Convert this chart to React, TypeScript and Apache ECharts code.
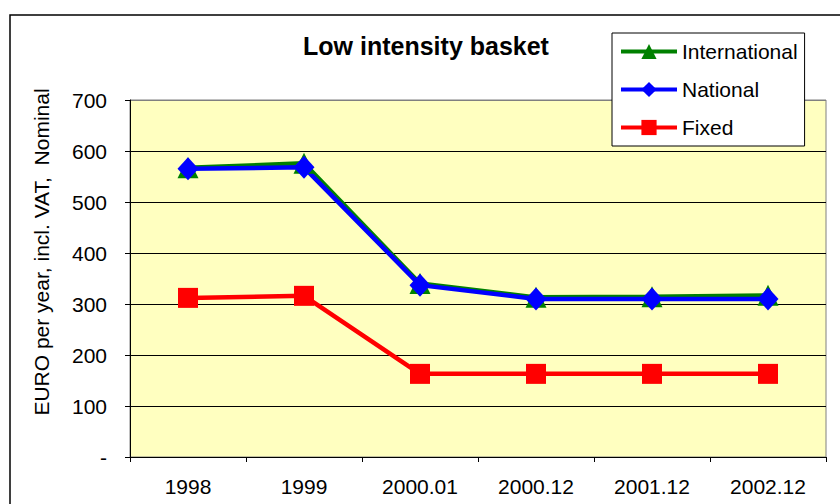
import React, { useEffect, useRef } from "react";
import * as echarts from "echarts";

const categories = ["1998", "1999", "2000.01", "2000.12", "2001.12", "2002.12"];
const international = [567, 576, 340, 313, 314, 317];
const national = [565, 568, 337, 310, 310, 310];
const fixed = [312, 316, 163, 163, 163, 163];
const yTicks = [0, 100, 200, 300, 400, 500, 600, 700];
const yAxisTitle = "EURO per year, incl. VAT,  Nominal";

export default function App() {
  const ref = useRef<HTMLDivElement>(null);
  useEffect(() => {
    document.body.style.margin = "0";
    const chart = echarts.init(ref.current!, null, { renderer: "svg" });
    const font = "Liberation Sans, Arial, sans-serif";
    chart.setOption({
      animation: false,
      backgroundColor: "#ffffff",
      textStyle: { fontFamily: font },
      title: {
        text: "Low intensity basket",
        left: 426,
        textAlign: "center",
        top: 33,
        padding: 0,
        textStyle: { fontSize: 25, fontWeight: "bold", color: "#000", fontFamily: font },
      },
      graphic: [
        {
          type: "rect",
          shape: { x: 10, y: 15, width: 850, height: 520 },
          style: { fill: "none", stroke: "#000", lineWidth: 1.5 },
          z: 100,
        },
        {
          type: "text",
          x: 41,
          y: 252,
          rotation: Math.PI / 2,
          style: {
            text: yAxisTitle,
            fontSize: 21,
            fontFamily: font,
            fill: "#000",
            textAlign: "center",
            textVerticalAlign: "middle",
          },
        },
      ],
      legend: {
        orient: "vertical",
        left: 612,
        top: 33,
        backgroundColor: "#ffffff",
        borderColor: "#000",
        borderWidth: 1,
        padding: [8, 7, 8, 7],
        itemWidth: 56,
        itemHeight: 19,
        itemGap: 17,
        lineStyle: { width: 4 },
        textStyle: { fontSize: 21, color: "#000", fontFamily: font },
        data: ["International", "National", "Fixed"],
        z: 10,
      },
      grid: {
        left: 130,
        top: 100,
        right: 14,
        bottom: 47,
        show: true,
        backgroundColor: "#FFFFC0",
        borderColor: "#808080",
        borderWidth: 1,
      },
      xAxis: {
        type: "category",
        data: categories,
        boundaryGap: true,
        axisLine: { lineStyle: { color: "#000", width: 1 } },
        axisTick: { show: true, length: 5, lineStyle: { color: "#000" } },
        axisLabel: { fontSize: 21, color: "#000", margin: 19, fontFamily: font },
      },
      yAxis: {
        type: "value",
        min: 0,
        max: 700,
        interval: 100,
        axisLine: { show: true, lineStyle: { color: "#000", width: 1 } },
        axisTick: { show: true, length: 5, lineStyle: { color: "#000" } },
        axisLabel: {
          fontSize: 21,
          color: "#000",
          margin: 23,
          fontFamily: font,
          formatter: (v: number) => (v === 0 ? "-" : String(v)),
        },
        splitLine: {
          show: true,
          lineStyle: {
            color: yTicks.map((t) => (t === 700 ? "#808080" : "#000")),
            width: 1,
          },
        },
      },
      series: [
        {
          name: "International",
          type: "line",
          data: international,
          color: "#008000",
          lineStyle: { color: "#008000", width: 4.5 },
          itemStyle: { color: "#008000" },
          symbol: "triangle",
          symbolSize: 21,
        },
        {
          name: "National",
          type: "line",
          data: national,
          color: "#0000FF",
          lineStyle: { color: "#0000FF", width: 4.5 },
          itemStyle: { color: "#0000FF" },
          symbol: "diamond",
          symbolSize: [21, 23],
        },
        {
          name: "Fixed",
          type: "line",
          data: fixed,
          color: "#FF0000",
          lineStyle: { color: "#FF0000", width: 4.5 },
          itemStyle: { color: "#FF0000" },
          symbol: "rect",
          symbolSize: 20,
        },
      ],
    });
    return () => chart.dispose();
  }, []);
  return (
    <div
      ref={ref}
      style={{ position: "absolute", left: 0, top: 0, width: 840, height: 504 }}
    />
  );
}
